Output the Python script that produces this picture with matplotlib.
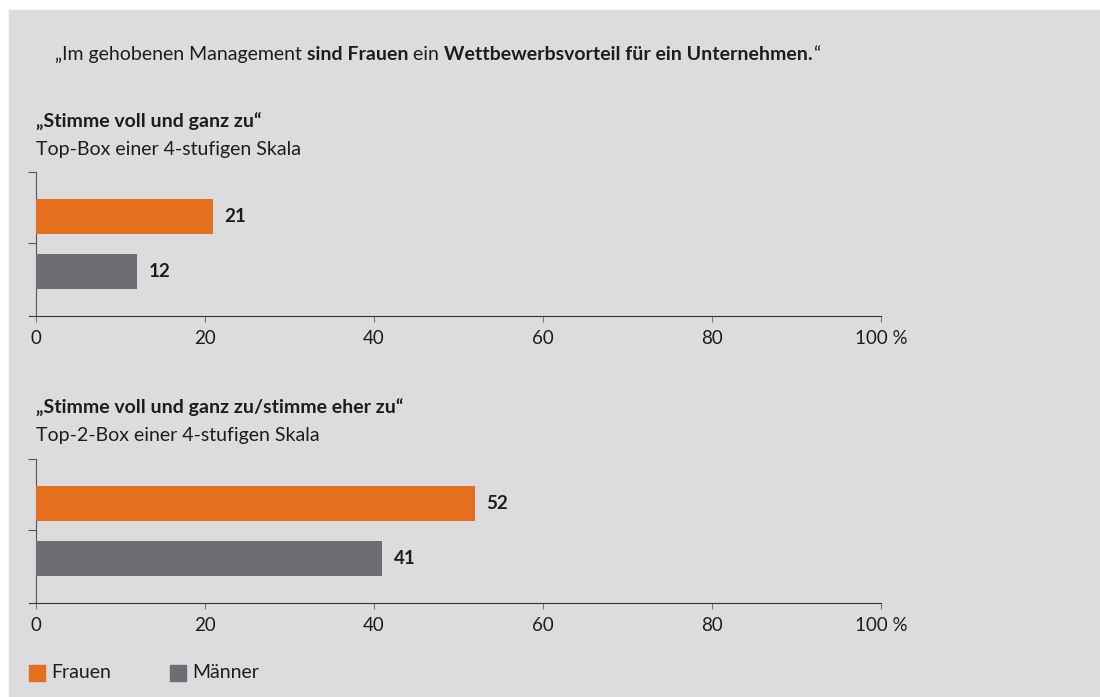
import matplotlib.pyplot as plt
from matplotlib.patches import Rectangle

plt.rcParams['font.family'] = ['Lato', 'DejaVu Sans']

# data
groups = ['Frauen', 'Männer']
top_box = [21, 12]
top2_box = [52, 41]
ticks = [0, 20, 40, 60, 80, 100]
tick_labels = ['0', '20', '40', '60', '80', '100 %']

orange = '#e4701e'
grey = '#6d6e71'
txt = '#1d1d1b'
bg = '#dcdcde'
W, H = 1100, 697
FS = 14


def fx(px):
    return px / W


def fy(py):
    return 1 - py / H


fig = plt.figure(figsize=(11, 6.97), dpi=100)
fig.patches.append(Rectangle((fx(9), 0), 1, fy(10), transform=fig.transFigure,
                             color=bg, zorder=-10))


def bar_panel(top_px, values):
    bottom_px = top_px + 144
    ax = fig.add_axes([fx(29.2), fy(bottom_px), fx(881) - fx(29.2),
                       fy(top_px) - fy(bottom_px)])
    ax.set_facecolor('none')
    ypos = [1, 0]
    ax.barh(ypos, values, height=0.63, color=[orange, grey], zorder=3)
    for y, v in zip(ypos, values):
        ax.annotate(str(v), (v, y), xytext=(8, 0), textcoords='offset points',
                    va='center', ha='left', fontsize=13.5, fontweight='bold',
                    color=txt)
    ax.set_xlim(-0.8, 100)
    ax.set_ylim(-0.8, 1.8)
    ax.spines['left'].set_position(('data', 0))
    for s in ['top', 'right']:
        ax.spines[s].set_visible(False)
    ax.spines['left'].set_color('#555555')
    ax.spines['bottom'].set_color('#333333')
    ax.set_xticks(ticks)
    ax.set_xticklabels(tick_labels, fontsize=13.5, color=txt)
    ax.set_yticks([0.52, 1.8])
    ax.set_yticklabels([])
    ax.tick_params(axis='x', length=4, color='#777777', pad=6)
    ax.tick_params(axis='y', length=6, color='#555555')
    return ax


ax1 = bar_panel(172, top_box)
ax2 = bar_panel(459, top2_box)

# title with mixed weights, placed piece by piece
pieces = [('„Im gehobenen Management ', 'normal'), ('sind Frauen', 'bold'),
          (' ein ', 'normal'), ('Wettbewerbsvorteil für ein Unternehmen.', 'bold'),
          ('“', 'normal')]
fig.canvas.draw()
r = fig.canvas.get_renderer()
x = fx(55)
for t, w in pieces:
    tt = fig.text(x, fy(60), t, fontsize=FS, color=txt, fontweight=w,
                  va='baseline', ha='left')
    x += tt.get_window_extent(renderer=r).width / W

fig.text(fx(36), fy(128), '„Stimme voll und ganz zu“', fontsize=FS,
         fontweight='bold', color=txt, va='baseline')
fig.text(fx(36), fy(155), 'Top-Box einer 4-stufigen Skala', fontsize=FS,
         color=txt, va='baseline')
fig.text(fx(36), fy(414), '„Stimme voll und ganz zu/stimme eher zu“', fontsize=FS,
         fontweight='bold', color=txt, va='baseline')
fig.text(fx(36), fy(441), 'Top-2-Box einer 4-stufigen Skala', fontsize=FS,
         color=txt, va='baseline')

# legend
for lx, c, name in [(29, orange, groups[0]), (170, grey, groups[1])]:
    fig.patches.append(Rectangle((fx(lx), fy(681)), fx(16), 16 / H,
                                 transform=fig.transFigure, color=c))
    fig.text(fx(lx + 22), fy(673), name, fontsize=FS, color=txt, va='center')

fig.savefig('out.png', dpi=100)
